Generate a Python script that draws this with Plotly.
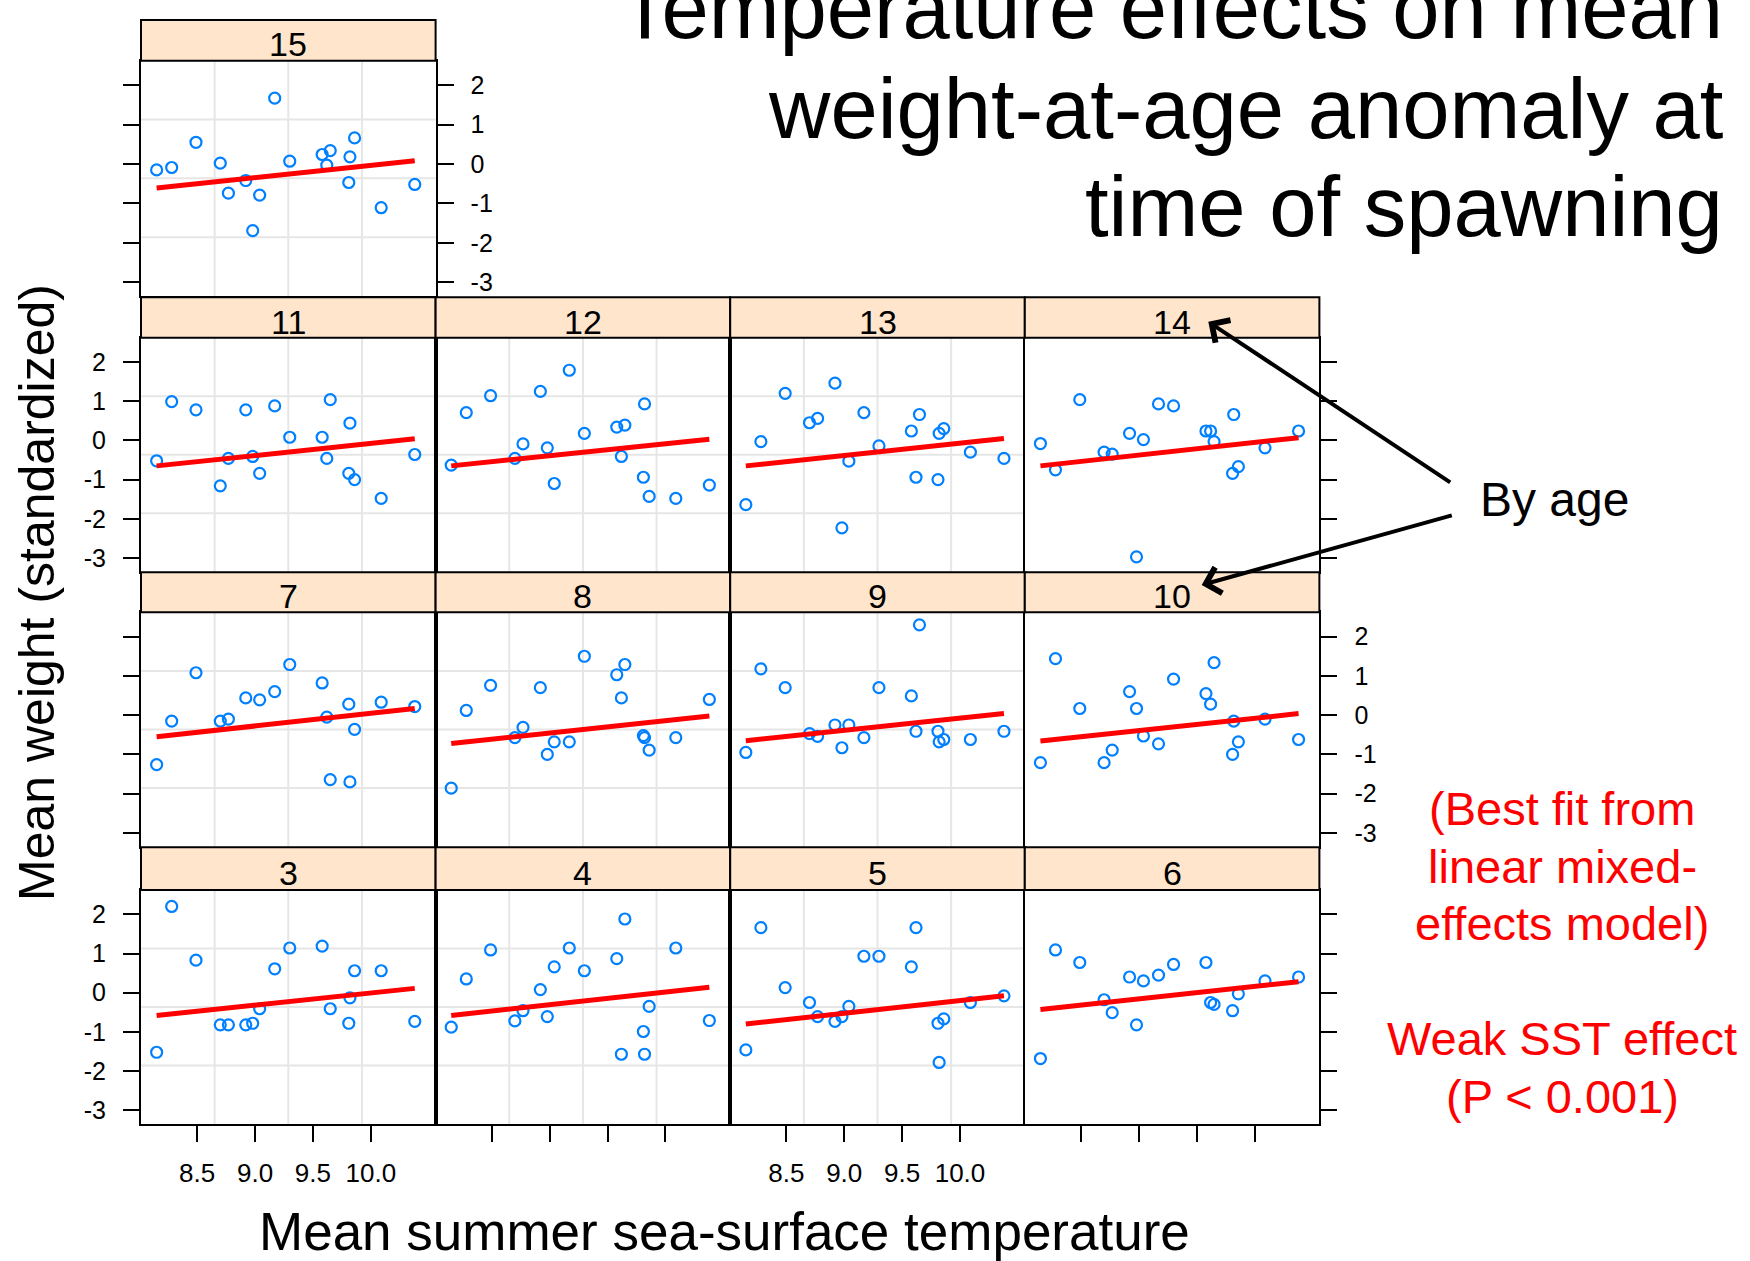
import plotly.graph_objects as go

W, H = 1750, 1261
FONT = "Liberation Sans, Arial, sans-serif"

# Mean summer sea-surface temperature for each year (shared by every age panel)
sst = [8.15, 8.28, 8.49, 8.70, 8.77, 8.92, 8.98, 9.04, 9.17,
       9.30, 9.58, 9.62, 9.65, 9.81, 9.82, 9.86, 10.09, 10.38]

# Standardized mean weight-at-age anomalies, one list per age (None = no data)
w_age15 = [-0.15, -0.09, 0.55, 0.02, -0.74, -0.42, -1.69, -0.79, 1.67,
           0.07, 0.24, -0.03, 0.34, -0.47, 0.18, 0.66, -1.11, -0.52]
w_age11 = [-0.52, 0.99, 0.78, -1.16, -0.46, 0.78, -0.41, -0.84, 0.88,
           0.08, 0.08, -0.46, 1.04, -0.84, 0.44, -1.00, -1.48, -0.36]
w_age12 = [-0.63, 0.71, 1.14, -0.46, -0.09, 1.25, -0.19, -1.10, 1.79,
           0.18, 0.34, -0.41, 0.39, -0.94, 0.93, -1.43, -1.48, -1.14]
w_age13 = [-1.64, -0.03, 1.20, 0.45, 0.56, 1.46, -2.23, -0.53, 0.71,
           -0.14, 0.24, -0.94, 0.66, -1.00, 0.18, 0.30, -0.30, -0.46]
w_age14 = [-0.08, -0.75, 1.04, -0.30, -0.35, 0.18, -2.97, 0.02, 0.93,
           0.88, 0.24, 0.24, -0.03, -0.84, 0.66, -0.67, -0.19, 0.24]
w_age7 = [-1.26, -0.15, 1.08, -0.15, -0.10, 0.44, None, 0.39, 0.60,
          1.29, 0.82, -0.05, -1.64, 0.28, -1.70, -0.36, 0.33, 0.22]
w_age8 = [-1.86, 0.12, 0.76, -0.57, -0.31, 0.70, -1.00, -0.68, -0.68,
          1.50, 1.03, 0.44, 1.29, -0.52, -0.57, -0.89, -0.57, 0.40]
w_age9 = [-0.95, 1.18, 0.70, -0.47, -0.54, -0.25, -0.83, -0.25, -0.57,
          0.70, 0.49, -0.41, 2.30, -0.41, -0.68, -0.62, -0.62, -0.41]
w_age10 = [-1.21, 1.44, 0.17, -1.21, -0.89, 0.60, 0.17, -0.53, -0.73,
           0.92, 0.55, 0.28, 1.34, -1.00, -0.15, -0.68, -0.10, -0.62]
w_age3 = [-1.52, 2.20, 0.83, -0.82, -0.82, -0.82, -0.78, -0.41, 0.61,
          1.14, 1.19, None, -0.41, -0.78, -0.13, 0.56, 0.56, -0.73]
w_age4 = [-0.88, 0.35, 1.09, -0.72, -0.46, 0.08, -0.61, 0.66, 1.14,
          0.56, 0.87, -1.57, 1.88, -0.99, -1.57, -0.35, 1.14, -0.71]
w_age5 = [-1.46, 1.66, 0.13, -0.25, -0.61, -0.73, -0.61, -0.35, 0.93,
          0.93, 0.66, 1.66, None, -0.78, -1.78, -0.67, -0.25, -0.08]
w_age6 = [-1.68, 1.09, 0.77, -0.18, -0.51, 0.40, -0.82, 0.30, 0.45,
          0.72, 0.77, -0.25, -0.30, -0.46, None, -0.03, 0.30, 0.40]

# Mixed-model fitted values at the coolest and warmest year, per age
fit_age15 = [-0.61, 0.08]
fit_age11 = [-0.65, 0.04]
fit_age12 = [-0.65, 0.03]
fit_age13 = [-0.65, 0.05]
fit_age14 = [-0.65, 0.07]
fit_age7 = [-0.55, 0.17]
fit_age8 = [-0.72, -0.02]
fit_age9 = [-0.65, 0.04]
fit_age10 = [-0.66, 0.04]
fit_age3 = [-0.58, 0.11]
fit_age4 = [-0.58, 0.14]
fit_age5 = [-0.80, -0.08]
fit_age6 = [-0.43, 0.28]

x_ticks = [8.5, 9.0, 9.5, 10.0]
x_ticktext = ["8.5", "9.0", "9.5", "10.0"]
y_ticks = [-3, -2, -1, 0, 1, 2]
y_ticktext = ["-3", "-2", "-1", "0", "1", "2"]

weights = {15: w_age15, 11: w_age11, 12: w_age12, 13: w_age13, 14: w_age14,
           7: w_age7, 8: w_age8, 9: w_age9, 10: w_age10,
           3: w_age3, 4: w_age4, 5: w_age5, 6: w_age6}
fits = {15: fit_age15, 11: fit_age11, 12: fit_age12, 13: fit_age13, 14: fit_age14,
        7: fit_age7, 8: fit_age8, 9: fit_age9, 10: fit_age10,
        3: fit_age3, 4: fit_age4, 5: fit_age5, 6: fit_age6}

# Lattice layout (pixel geometry of panel columns and rows)
col_left = [141.0, 435.6, 730.2, 1024.8]
col_w = 294.6
row_strip_top = [20.0, 297.3, 572.3, 847.3]
row_plot_top = [60.7, 337.7, 612.3, 890.0]
row_plot_bot = [296.0, 571.7, 846.7, 1124.0]

# (age, column, row)
panels = [(15, 0, 0),
          (11, 0, 1), (12, 1, 1), (13, 2, 1), (14, 3, 1),
          (7, 0, 2), (8, 1, 2), (9, 2, 2), (10, 3, 2),
          (3, 0, 3), (4, 1, 3), (5, 2, 3), (6, 3, 3)]

# y-axis tick side / labels per age, alternating like a lattice display
y_axis_style = {15: ("right", True, "ticks"), 11: ("left", True, True),
                14: ("right", False, True), 7: ("left", False, True),
                10: ("right", True, True), 3: ("left", True, True),
                6: ("right", False, True)}
x_labelled = {3, 5}

X_RANGE = [8.015, 10.56]
Y_RANGE = [-3.35, 2.62]

fig = go.Figure()
shapes = []
annotations = []
layout = {}

for i, (age, c, r) in enumerate(panels, start=1):
    sfx = "" if i == 1 else str(i)
    xa, ya = "x" + sfx, "y" + sfx

    fig.add_trace(go.Scatter(
        x=sst, y=weights[age], mode="markers", xaxis=xa, yaxis=ya,
        marker=dict(symbol="circle-open", size=11, color="#0080ff",
                    line=dict(width=2.2, color="#0080ff")),
        hoverinfo="x+y", showlegend=False))
    fig.add_trace(go.Scatter(
        x=[sst[0], sst[-1]], y=fits[age], mode="lines", xaxis=xa, yaxis=ya,
        line=dict(color="#ff0000", width=5), hoverinfo="skip", showlegend=False))

    x0, x1 = col_left[c], col_left[c] + col_w
    yt, yb = row_plot_top[r], row_plot_bot[r]

    bottom_row = (r == 3)
    layout["xaxis" + sfx] = dict(
        domain=[x0 / W, x1 / W], anchor=ya, range=X_RANGE,
        showline=True, mirror=True, linecolor="black", linewidth=2,
        showgrid=False, zeroline=False,
        tickvals=x_ticks, ticktext=x_ticktext,
        ticks="outside" if bottom_row else "", ticklen=16, tickwidth=2,
        tickcolor="black",
        showticklabels=bottom_row and age in x_labelled,
        ticklabelstandoff=9,
        tickfont=dict(family=FONT, size=26, color="black"))

    side, labels, mirror = y_axis_style.get(age, ("left", False, True))
    has_ticks = age in y_axis_style
    layout["yaxis" + sfx] = dict(
        domain=[1 - yb / H, 1 - yt / H], anchor=xa, range=Y_RANGE,
        side=side, showline=True, mirror=mirror, linecolor="black", linewidth=2,
        showgrid=False, zeroline=False, tickvals=y_ticks, ticktext=y_ticktext,
        ticks="outside" if has_ticks else "", ticklen=16, tickwidth=2,
        tickcolor="black", showticklabels=labels, ticklabelstandoff=12,
        tickfont=dict(family=FONT, size=25, color="black"))

    # light reference grid dividing each panel in quarters
    for f in (0.25, 0.5, 0.75):
        shapes.append(dict(type="line", xref=xa + " domain", yref=ya + " domain",
                           x0=f, x1=f, y0=0, y1=1, layer="below",
                           line=dict(color="#e6e6e6", width=2)))
        shapes.append(dict(type="line", xref=xa + " domain", yref=ya + " domain",
                           x0=0, x1=1, y0=f, y1=f, layer="below",
                           line=dict(color="#e6e6e6", width=2)))

    # strip with the age label
    st = row_strip_top[r]
    shapes.append(dict(type="rect", xref="paper", yref="paper",
                       x0=x0 / W, x1=x1 / W, y0=1 - yt / H, y1=1 - st / H,
                       fillcolor="#ffe5cc", line=dict(color="black", width=2),
                       layer="above"))
    annotations.append(dict(text=str(age), xref="paper", yref="paper",
                            x=(x0 + x1) / 2 / W, y=1 - ((st + yt) / 2 + 4) / H,
                            xanchor="center", yanchor="middle", showarrow=False,
                            font=dict(family=FONT, size=34, color="black")))

# top tick marks above the age-15 strip
layout["xaxis14"] = dict(overlaying="x", anchor="free", position=1 - 20 / H,
                         side="top", range=X_RANGE, tickvals=x_ticks,
                         ticks="outside", ticklen=15, tickwidth=2, tickcolor="black",
                         showticklabels=False, showline=False, showgrid=False,
                         zeroline=False)

# title, right-aligned, three lines
title_lines = ["Temperature effects on mean", "weight-at-age anomaly at",
               "time of spawning"]
title_centers = [9, 108, 207]
for txt, yc in zip(title_lines, title_centers):
    annotations.append(dict(text=txt, xref="paper", yref="paper", x=1725 / W,
                            y=1 - yc / H, xanchor="right", yanchor="middle",
                            showarrow=False,
                            font=dict(family=FONT, size=85, color="black")))

# axis titles
annotations.append(dict(text="Mean summer sea-surface temperature", xref="paper",
                        yref="paper", x=724 / W, y=1 - 1231 / H, xanchor="center",
                        yanchor="middle", showarrow=False,
                        font=dict(family=FONT, size=53, color="black")))
annotations.append(dict(text="Mean weight (standardized)", xref="paper",
                        yref="paper", x=37 / W, y=1 - 593 / H, xanchor="center",
                        yanchor="middle", textangle=-90, showarrow=False,
                        font=dict(family=FONT, size=50, color="black")))

# "By age" callout with two arrows pointing at strips
annotations.append(dict(text="By age", xref="paper", yref="paper", x=1478 / W,
                        y=1 - 500 / H, xanchor="left", yanchor="middle",
                        showarrow=False, font=dict(family=FONT, size=48, color="black")))
for tip, tail in [((1208.3, 321.7), (1451.7, 483.3)),
                  ((1201.7, 585.0), (1453.3, 515.0))]:
    annotations.append(dict(text="", xref="paper", yref="paper",
                            x=tip[0] / W, y=1 - tip[1] / H,
                            ax=tail[0] - tip[0], ay=tail[1] - tip[1],
                            showarrow=True, arrowhead=4, arrowsize=1.3,
                            arrowwidth=4, arrowcolor="black", standoff=0))

# model note in red
note_lines = ["(Best fit from", "linear mixed-", "effects model)",
              "Weak SST effect", "(P < 0.001)"]
note_centers = [808, 866, 924, 1038, 1096]
for txt, yc in zip(note_lines, note_centers):
    annotations.append(dict(text=txt, xref="paper", yref="paper", x=1562 / W,
                            y=1 - yc / H, xanchor="center", yanchor="middle",
                            showarrow=False,
                            font=dict(family=FONT, size=47, color="#ff0000")))

fig.update_layout(width=W, height=H, margin=dict(l=0, r=0, t=0, b=0),
                  paper_bgcolor="white", plot_bgcolor="white", showlegend=False,
                  shapes=shapes, annotations=annotations, **layout)

fig.write_html("out.html")
